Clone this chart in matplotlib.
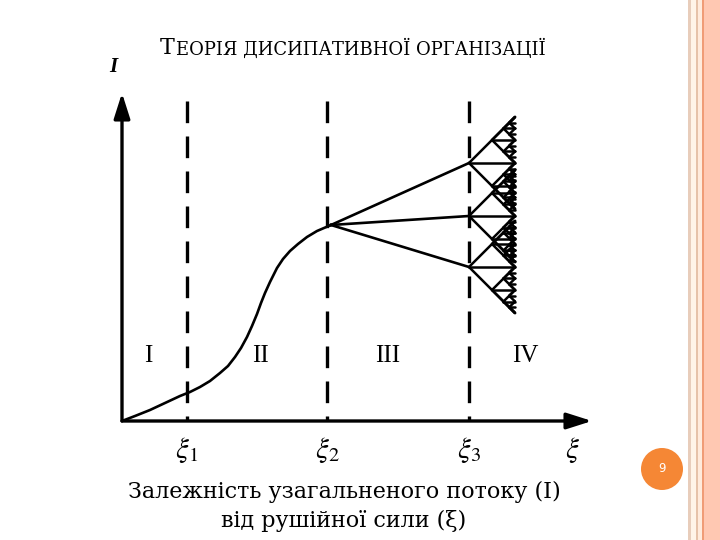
import matplotlib.pyplot as plt
from matplotlib.patches import Rectangle, Circle

plt.rcParams['mathtext.fontset'] = 'stix'
plt.rcParams['font.family'] = ['DejaVu Serif']

# diagram units: 1 unit = 40 px of the original slide, origin at the axes corner
xi_marks = [1.625, 5.125, 8.675]
xi_labels = [r'$\xi_1$', r'$\xi_2$', r'$\xi_3$']
dash_top = 8.0

# S-shaped growth of the flow I with the driving force xi
curve_xi = [0.0, 0.325, 0.7, 1.075, 1.45, 1.7, 1.95, 2.2, 2.45, 2.65, 2.825, 2.975, 3.125,
            3.25, 3.375, 3.475, 3.575, 3.7, 3.875, 4.025, 4.2, 4.4, 4.625, 4.875, 5.225]
curve_I = [0.0, 0.125, 0.275, 0.45, 0.625, 0.725, 0.85, 1.0, 1.2, 1.375, 1.6, 1.825, 2.1,
           2.375, 2.675, 2.95, 3.2, 3.475, 3.825, 4.05, 4.25, 4.425, 4.6, 4.75, 4.9]

# first bifurcation at xi2 -> three branches reaching xi3
branch_xi0, branch_I0 = 5.225, 4.9
branch_I = [6.45, 5.125, 3.85]
fan_len = 1.15
fan_depth = 3

regions = ['I', 'II', 'III', 'IV']
region_xi = [0.65, 3.45, 6.65, 10.075]
region_I = 1.625

fig = plt.figure(figsize=(7.2, 5.4), dpi=100)

# slide decoration (right border + page badge)
bg = fig.add_axes([0, 0, 1, 1])
bg.set_xlim(0, 720)
bg.set_ylim(540, 0)
bg.axis('off')
stripes = [(688, 3, '#e8cdbb'), (691, 5, '#fff4e8'), (696, 2, '#e6c2a9'),
           (698, 4, '#ffebdc'), (702, 2, '#f09c76'), (704, 16, '#ffc8b2')]
for x0, w, c in stripes:
    bg.add_patch(Rectangle((x0, 0), w, 540, color=c, lw=0))
bg.add_patch(Circle((662, 469), 21, color='#f58735', lw=0))
bg.text(662, 469, '9', color='white', fontsize=8.5, ha='center', va='center',
        family='DejaVu Sans')

ax = fig.add_axes([122 / 720, 119 / 540, 480 / 720, 340 / 540])
ax.set_xlim(0, 12)
ax.set_ylim(0, 8.5)
ax.axis('off')

arrow = dict(arrowstyle='-|>,head_length=1.1,head_width=0.35', mutation_scale=14,
             lw=2.4, color='k', shrinkA=0, shrinkB=0)
ax.annotate('', xy=(11.75, 0), xytext=(0, 0), arrowprops=arrow, annotation_clip=False)
ax.annotate('', xy=(0, 8.2), xytext=(0, 0), arrowprops=arrow, annotation_clip=False)

for x in xi_marks:
    ax.plot([x, x], [dash_top, 0], color='k', lw=2.4, linestyle=(0, (6.5, 4.0)))

ax.plot(curve_xi, curve_I, color='k', lw=1.9, solid_joinstyle='round')

for I in branch_I:
    ax.plot([branch_xi0, xi_marks[2]], [branch_I0, I], color='k', lw=1.9)


def fan(x, y, L, depth):
    for d in (L, 0, -L):
        ax.plot([x, x + L], [y, y + d], color='k', lw=1.8, solid_capstyle='round')
    if depth > 0:
        for d in (L, -L):
            fan(x + L / 2, y + d / 2, L / 2, depth - 1)


for I in branch_I:
    fan(xi_marks[2], I, fan_len, fan_depth)

for x, lab in zip(xi_marks, xi_labels):
    ax.text(x, -0.72, lab, fontsize=21, ha='center', va='center')
ax.text(11.25, -0.72, r'$\xi$', fontsize=21, ha='center', va='center')
ax.text(-0.22, 8.85, 'I', fontsize=15, style='italic', weight='bold',
        ha='center', va='center', family='Liberation Serif')

for x, lab in zip(region_xi, regions):
    ax.text(x, region_I, lab, fontsize=18, ha='center', va='center',
            family='Liberation Serif')

t1 = fig.text(160 / 720, 1 - 54 / 540, 'Т', fontsize=16, va='baseline', ha='left')
bg.annotate('ЕОРІЯ ДИСИПАТИВНОЇ ОРГАНІЗАЦІЇ', xy=(1, 0), xycoords=t1,
            fontsize=13, va='bottom', ha='left', xytext=(1, 0), textcoords='offset points')

fig.text(344 / 720, 1 - 492 / 540, 'Залежність узагальненого потоку (І)', fontsize=16,
         ha='center', va='center')
fig.text(344 / 720, 1 - 521 / 540, 'від рушійної сили (ξ)', fontsize=16,
         ha='center', va='center')

fig.savefig('out.png', dpi=100)
